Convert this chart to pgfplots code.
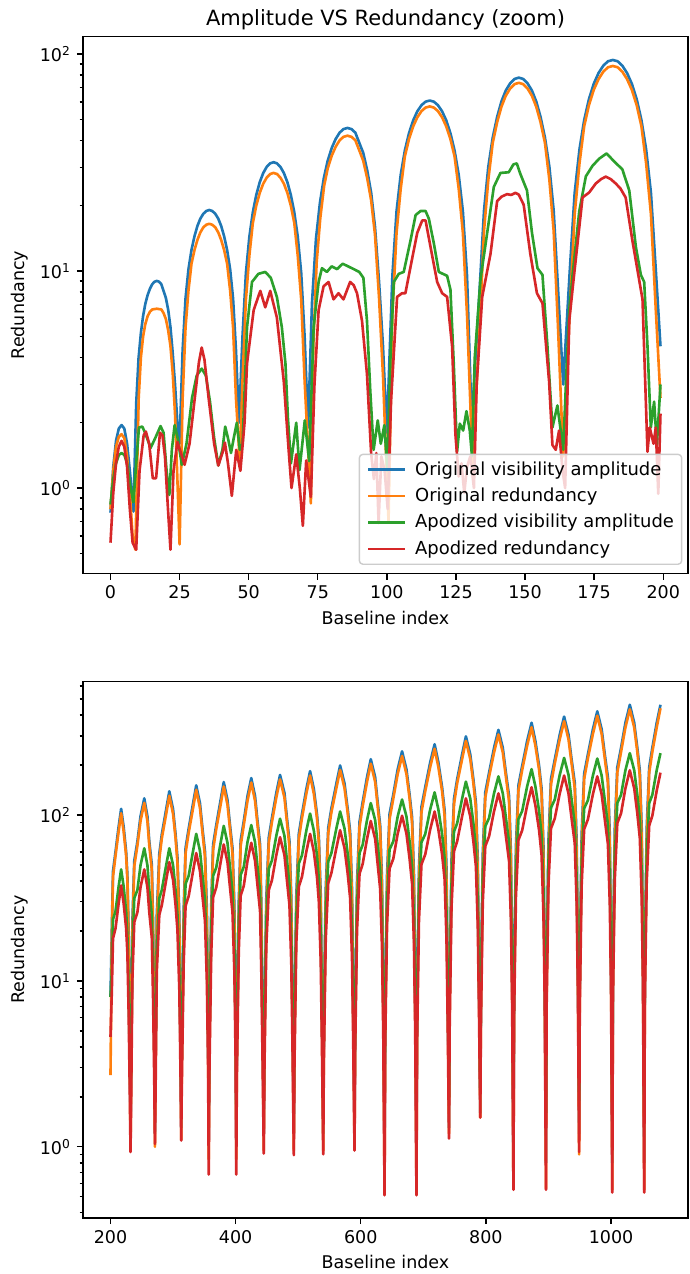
\documentclass[border=0pt]{standalone}
\usepackage{fontspec}
\setmainfont{DejaVu Sans}
\usepackage{pgfplots}
\usepackage{pgfplotstable}
\pgfplotsset{compat=1.18}
\definecolor{c0}{HTML}{1F77B4}
\definecolor{c1}{HTML}{FF7F0E}
\definecolor{c2}{HTML}{2CA02C}
\definecolor{c3}{HTML}{D62728}

\pgfplotstableread{
x b o g r
200 8 2.7 8 4.6
202 19.6 16.4 11.3 8.3
204 45.8 42.5 23.5 18
208 60 56.7 26.3 20.7
213 85 79.6 37.1 29.3
217 109 102.5 47 37.6
221 85 79.6 37.1 29.3
225 60 56.7 26.3 20.7
227 43.6 40.3 18.8 14.7
229 19.6 16.4 8.9 6.4
231 4.4 3.3 2.8 1.9
232 1.2 0.95 2.0 0.93
233 3.8 2.5 3.2 1.9
235 22.7 18.9 15.1 10.3
238 52.9 49.1 31.5 22.6
243 69.3 65.5 35.3 25.9
248 98.3 92 49.8 36.7
254 126 118.4 63 47
259 98.3 92 49.8 36.7
262 69.3 65.5 35.3 25.9
266 50.4 46.6 25.2 18.3
268 22.7 18.9 12 8
270 5 3.8 3.8 2.4
271 1.2 1.0 1.9 1.04
272 4.2 2.8 3.2 2.1
274 25 20.9 15.1 11.4
278 58.4 54.2 31.5 25
282 76.5 72.3 35.3 28.6
289 108.4 101.5 49.8 40.6
294 139 130.7 63 52
300 108.4 101.5 49.8 40.6
304 76.5 72.3 35.3 28.6
307 55.6 51.4 25.2 20.3
310 25 20.9 12 8.8
312 5.6 4.2 3.8 2.6
313 1.3 1.1 2.0 1.09
314 4.5 3.0 3.9 2.4
317 27.2 22.7 18.5 13
320 63.4 58.9 38.5 28.3
325 83 78.5 43.1 32.5
332 117.8 110.2 60.8 46
337 151 142 77 59
343 117.8 110.2 60.8 46
347 83 78.5 43.1 32.5
351 60.4 55.9 30.8 23
354 27.2 22.7 14.6 10
356 6 4.5 4.6 3
357 1.1 0.84 1.8 0.68
358 4.7 3.2 4.3 2.7
361 28.4 23.7 20.6 14.6
364 66.4 61.6 43 31.9
369 86.9 82.2 48.2 36.6
376 123.2 115.3 67.9 51.9
381 158 148.5 86 66.5
387 123.2 115.3 67.9 51.9
391 86.9 82.2 48.2 36.6
395 63.2 58.5 34.4 25.9
398 28.4 23.7 16.3 11.3
400 6.3 4.7 5.2 3.3
401 1.1 0.84 1.8 0.68
402 5 3.3 4.4 2.7
405 30 25 20.9 15
408 70.1 65.1 43.5 32.6
413 91.9 86.8 48.7 37.4
419 130.3 121.9 68.7 53
425 167 157 87 68
431 130.3 121.9 68.7 53
435 91.9 86.8 48.7 37.4
439 66.8 61.8 34.8 26.5
441 30 25 16.5 11.6
443 6.7 5 5.2 3.4
445 1.2 0.95 1.9 0.91
446 5.2 3.5 4.8 2.9
449 31.4 26.2 22.8 16.2
453 73.3 68.1 47.5 35.3
458 96 90.7 53.2 40.4
465 136.1 127.4 75 57.3
471 174.5 164 95 73.5
478 136.1 127.4 75 57.3
482 96 90.7 53.2 40.4
486 69.8 64.6 38 28.7
489 31.4 26.2 18 12.5
491 7 5.2 5.7 3.7
493 1.2 0.95 1.9 0.89
494 5.5 3.7 5.1 3.1
497 33.1 27.6 24.5 16.9
501 77.3 71.8 51 37
506 101.2 95.7 57.1 42.4
513 143.5 134.3 80.6 60.1
519 184 173 102 77
525 143.5 134.3 80.6 60.1
530 101.2 95.7 57.1 42.4
533 73.6 68.1 40.8 30
536 33.1 27.6 19.4 13.1
538 7.4 5.5 6.1 3.9
540 1.2 0.95 1.9 0.9
541 6 4 5.3 3.2
544 35.8 29.9 25.2 17.8
548 83.6 77.6 52.5 38.9
553 109.5 103.5 58.8 44.6
561 155.2 145.3 83 63.2
567 199 187 105 81
574 155.2 145.3 83 63.2
579 109.5 103.5 58.8 44.6
583 79.6 73.6 42 31.6
586 35.8 29.9 20 13.8
588 8 6 6.3 4.1
590 1.2 1.0 1.9 0.95
591 6.5 4.3 5.9 3.7
594 39.1 32.6 28.3 20.2
598 91.1 84.6 59 44.2
603 119.4 112.8 66.1 50.6
610 169.3 158.4 93.2 71.8
616 217 204 118 92
623 169.3 158.4 93.2 71.8
627 119.4 112.8 66.1 50.6
631 86.8 80.3 47.2 35.9
634 39.1 32.6 22.4 15.6
636 8.7 6.5 7.1 4.6
638 0.8 0.55 1.6 0.51
639 7.3 4.8 6.2 4
642 43.6 36.3 29.8 21.8
646 101.6 94.4 62 47.5
652 133.1 125.8 69.4 54.5
659 188.8 176.7 98 77.2
666 242 227 124 99
673 188.8 176.7 98 77.2
678 133.1 125.8 69.4 54.5
682 96.8 89.5 49.6 38.6
685 43.6 36.3 23.6 16.8
687 9.7 7.3 7.4 5
689 0.8 0.55 1.6 0.51
690 8 5.3 6.9 4.2
693 48.1 40 32.9 23.1
697 112.1 104.1 68.5 50.4
703 146.9 138.8 76.7 57.8
711 208.3 194.9 108.2 81.9
718 267 251 137 105
724 208.3 194.9 108.2 81.9
730 146.9 138.8 76.7 57.8
734 106.8 98.8 54.8 41
737 48.1 40 26 17.9
739 10.7 8 8.2 5.3
741 1.3 1.2 2.0 1.12
742 8.9 6 8 5
745 53.6 44.7 38.2 27.7
749 125.2 116.2 79.5 60.5
754 163.9 155 89 69.3
762 232.4 217.6 125.6 98.3
768 298 280 159 126
775 232.4 217.6 125.6 98.3
780 163.9 155 89 69.3
784 119.2 110.3 63.6 49.1
787 53.6 44.7 30.2 21.4
789 11.9 8.9 9.5 6.3
791 1.6 1.5 2.2 1.5
792 9.8 6.5 8.6 5.4
795 58.7 48.9 41 29.7
799 136.9 127.1 85.5 64.8
805 179.3 169.5 95.8 74.3
813 254.3 238 135.1 105.3
820 326 306 171 135
827 254.3 238 135.1 105.3
832 179.3 169.5 95.8 74.3
837 130.4 120.6 68.4 52.7
840 58.7 48.9 32.5 23
842 13 9.8 10.3 6.8
844 0.8 0.56 1.6 0.55
845 10.8 7.2 9.5 5.9
848 64.8 54 45.4 32.3
852 151.2 140.4 94.5 70.6
858 198 187.2 105.8 80.9
866 280.8 262.8 149.3 114.7
873 360 338 189 147
879 280.8 262.8 149.3 114.7
885 198 187.2 105.8 80.9
889 144 133.2 75.6 57.3
892 64.8 54 35.9 25
894 14.4 10.8 11.3 7.4
896 0.8 0.56 1.6 0.55
897 11.8 7.8 11.1 6.9
900 70.6 58.8 53 38.1
904 164.6 152.9 110.5 83
910 215.6 203.8 123.8 95.2
918 305.8 286.2 174.6 134.9
925 392 368 221 173
932 305.8 286.2 174.6 134.9
937 215.6 203.8 123.8 95.2
942 156.8 145 88.4 67.5
945 70.6 58.8 42 29.4
947 15.7 11.8 13.3 8.7
949 1.2 0.9 1.9 0.93
950 12.7 8.4 11 6.8
953 76 63.3 52.6 37.6
957 177.2 164.6 109.5 82.1
963 232.1 219.4 122.6 94.1
971 329.2 308 173 133.4
978 422 397 219 171
985 329.2 308 173 133.4
990 232.1 219.4 122.6 94.1
995 168.8 156.1 87.6 66.7
998 76 63.3 41.6 29.1
1000 16.9 12.7 13.1 8.6
1002 0.8 0.55 1.6 0.53
1003 13.9 9.2 11.8 7.4
1006 83.2 69.3 56.6 40.9
1010 194 180.2 118 89.3
1016 254.1 240.2 132.2 102.3
1023 360.4 337.3 186.4 145.1
1030 462 434 236 186
1037 360.4 337.3 186.4 145.1
1042 254.1 240.2 132.2 102.3
1046 184.8 170.9 94.4 72.5
1049 83.2 69.3 44.8 31.6
1051 18.5 13.9 14.2 9.3
1053 0.8 0.55 1.6 0.53
1054 13.9 9.2 11.8 7.2
1057 83.2 69.3 56.6 39.6
1061 194 180.2 118 86.4
1066 254.1 240.2 132.2 99
1073 360.4 337.3 186.4 140.4
1079 462 440 236 180
}\bottomdata

\pgfplotsset{
  mystyle/.style={
    scale only axis, width=345.7pt, height=306.7pt,
    axis line style={line width=0.8pt},
    tick align=outside,
    major tick length=3.5pt, minor tick length=2pt,
    tick style={black, line width=0.8pt},
    xtick pos=left, ytick pos=left,
    tick label style={font=\fontsize{10}{12}\selectfont},
    label style={font=\fontsize{10}{12}\selectfont},
    ylabel={Redundancy}, xlabel={Baseline index},
    ytick={1,10,100},
    yticklabels={10\textsuperscript{0},10\textsuperscript{1},10\textsuperscript{2}},
    every axis plot/.append style={line width=1.5pt, line join=round},
  }
}

\begin{document}
\begin{tikzpicture}
\path[use as bounding box] (-47.43pt,-400.3pt) rectangle (346.8pt,327.7pt);
\begin{semilogyaxis}[mystyle,
  at={(0pt,0pt)}, anchor=south west,
  xmin=-9.95, xmax=208.95, ymin=0.404, ymax=120,
  xtick={0,25,50,75,100,125,150,175,200},
  xticklabels={0,25,50,75,100,125,150,175,200},
  minor ytick={0.5,0.6,0.7,0.8,0.9,2,3,4,5,6,7,8,9,20,30,40,50,60,70,80,90},
  title={Amplitude VS Redundancy (zoom)},
  title style={font=\fontsize{12}{14}\selectfont, yshift=-5.7pt},
  legend style={at={(1,0)}, anchor=south east, xshift=-3.2pt, yshift=4.9pt,
    draw=black!20, line width=0.8pt, fill=white, fill opacity=0.8, text opacity=1, draw opacity=1,
    rounded corners=2pt, font=\fontsize{10.25}{12}\selectfont,
    inner xsep=4.4pt, inner ysep=1.2pt, row sep=0pt,
    nodes={inner xsep=0pt, inner ysep=2.9pt},
    /tikz/every odd column/.append style={column sep=5pt}},
  legend cell align=left,
  legend image code/.code={\draw[#1] (0pt,0pt) -- (21pt,0pt);},
]
\addplot[c0, no marks] coordinates {
(0,0.77) (1,1.25) (2,1.65) (3,1.88) (4,1.95) (5,1.88) (6,1.6) (7,1.2) (8.3,0.78)
(9.3,2.45) (10.15,3.96) (11,5.18) (11.8,6.21) (12.6,7.06) (13.45,7.76) (14.3,8.3) (15.1,8.69) (15.9,8.92) (16.75,9.0) (17.6,8.92) (18.4,8.69) (19.2,8.1) (20.05,7.5) (20.9,6.6) (21.7,5.5) (22.5,4.2) (23.35,3.0) (24.2,2.0) (25,1.6)
(26.1,4.32) (27.15,7.47) (28.2,10.16) (29.3,12.49) (30.4,14.48) (31.45,16.12) (32.5,17.42) (33.6,18.36) (34.7,18.91) (35.75,19.1) (36.8,18.91) (37.9,18.36) (39,17.42) (40.05,16.12) (41.1,14.48) (42.2,12.49) (43.3,10.16) (44.35,7.47) (45.4,4.32) (46.5,2.0)
(47.75,4.95) (49,9.8) (50.25,14.39) (51.5,18.64) (52.75,22.41) (54,25.65) (55.25,28.24) (56.5,30.15) (57.75,31.32) (59,31.7) (60.25,31.32) (61.5,30.15) (62.75,28.24) (64,25.65) (65.25,22.41) (66.5,18.64) (67.75,14.39) (69,9.8) (70.25,4.95) (71.5,1.9)
(72.9,7.11) (74.35,14.09) (75.8,20.7) (77.2,26.81) (78.6,32.24) (80.05,36.89) (81.5,40.63) (82.9,43.37) (84.3,45.05) (85.75,45.6) (87.2,45.05) (88.6,43.37) (90,39) (91.45,35) (92.9,29) (94.3,23) (95.7,16) (97.15,9) (98.6,4.5) (100,1.8)
(102,9.52) (103.5,18.85) (105,27.69) (106.5,35.87) (108,43.1) (109.5,49.35) (111,54.35) (112.5,58.01) (114,60.27) (115.5,61) (117,60.27) (118.5,58.01) (120,54.35) (121.5,49.35) (123,43.1) (124.5,35.87) (126,27.69) (127.5,18.85) (129,9.52) (130.7,2.0)
(133.6,8.4) (135.15,18.98) (136.7,30.19) (138.3,41.16) (139.9,51.27) (141.45,60.37) (143,67.76) (144.6,73.21) (146.2,76.71) (147.75,77.8) (149.3,76.71) (150.9,73.21) (152.5,67.76) (154.05,60.37) (155.6,51.27) (157.2,41.16) (158.8,30.19) (160.35,18.98) (161.9,8.4) (163.8,3.0)
(166.2,10.13) (167.95,22.89) (169.7,36.39) (171.4,49.62) (173.1,61.8) (174.85,72.79) (176.6,81.7) (178.3,88.27) (180,92.5) (181.75,93.8) (183.5,92.5) (185.2,88.27) (186.9,81.7) (188.65,72.79) (190.4,61.8) (192.1,49.62) (193.8,36.39) (195.55,22.89) (197.3,10.13) (199,4.5)
};
\addplot[c1, no marks] coordinates {
(0,0.8) (1,1.2) (2,1.55) (3,1.72) (4,1.77) (5,1.7) (6,1.4) (7,0.95) (8,0.6) (9,0.52)
(10.2,2.6) (11,4.0) (11.8,5.0) (12.6,5.7) (13.45,6.2) (14.3,6.5) (15.1,6.65) (16.75,6.7) (18.4,6.65) (19.2,6.4) (20.05,6.0) (20.9,5.3) (21.7,4.5) (22.5,3.4) (23.35,2.2) (24.2,1.1) (25,0.55)
(26.1,2.6) (27.15,5.5) (28.2,8.1) (29.3,10.8) (30.4,12.51) (31.45,13.9) (32.5,15.05) (33.6,15.9) (34.7,16.34) (35.75,16.5) (36.8,16.34) (37.9,15.9) (39,15.05) (40.05,13.9) (41.1,12.51) (42.2,10.8) (43.3,8.1) (44.35,5.5) (45.4,2.6) (46.8,1.3)
(47.75,3.1) (49,7.4) (50.25,11.8) (51.5,16.65) (52.75,20.01) (54,22.9) (55.25,25.22) (56.5,26.9) (57.75,27.97) (59,28.3) (60.25,27.97) (61.5,26.9) (62.75,25.22) (64,22.9) (65.25,20.01) (66.5,16.65) (67.75,11.8) (69,7.4) (70.25,3.1) (72.5,0.85)
(73.4,4.6) (74.6,11) (75.9,17.5) (77.3,24.7) (78.6,29.7) (80.05,34) (81.5,37.4) (82.9,40) (84.3,41.5) (85.75,42) (87.2,41.5) (88.6,40) (90,36) (91.45,32.2) (92.9,26.7) (94.3,21.2) (95.7,14.7) (97.15,7.6) (98.6,3.3) (100.6,0.7)
(102,6.3) (103.5,15) (105,23.9) (106.5,33.7) (108,40.5) (109.5,46.3) (111,51) (112.5,54.5) (114,56.6) (115.5,57.3) (117,56.6) (118.5,54.5) (120,51) (121.5,46.3) (123,40.5) (124.5,33.7) (126,23.9) (127.5,15) (129,6.3) (131,1.3)
(133.6,5.6) (135.15,15.3) (136.7,26.3) (138.3,38.9) (139.9,48.5) (141.45,57.1) (143,64.1) (144.6,69.3) (146.2,72.6) (147.75,73.6) (149.3,72.6) (150.9,69.3) (152.5,64.1) (154.05,57.1) (155.6,48.5) (157.2,38.9) (158.8,26.3) (160.35,15.3) (161.9,5.6) (163.8,1.4)
(166.2,6.65) (167.95,18.25) (169.7,31.4) (171.4,46.5) (173.1,58) (174.85,68.3) (176.6,76.6) (178.3,82.8) (180,86.8) (181.75,88) (183.5,86.8) (185.2,82.8) (186.9,76.6) (188.65,68.3) (190.4,58) (192.1,46.5) (193.8,31.4) (195.55,18.25) (197.3,6.65) (199,2.6)
};
\addplot[c2, no marks] coordinates {
(0,0.84) (1,1.1) (2,1.3) (3,1.42) (4,1.45) (5,1.42) (6,1.3) (7,1.05) (8.3,0.86) (9.2,1.25) (10.3,1.9) (11.5,1.92) (12.5,1.8) (14.5,1.53) (16.2,1.7) (18.1,1.93) (19.2,1.8) (20.3,1.2) (21.3,0.93) (22.2,1.5) (23.2,1.95) (24.3,1.7) (25.8,1.28) (27.5,1.6) (29.5,2.6) (31.2,3.3) (33,3.55) (34.5,3.3) (36,2.5) (37.5,1.7) (39,1.27) (40.5,1.5) (41.5,1.92) (42.5,1.7) (43.6,1.45) (44.6,1.7) (45.7,2.0) (46.8,1.5) (47.8,1.6) (48.6,3.0) (49.4,5.5) (51.2,8.9) (53.5,9.7) (56,9.9) (58,9.3) (60.2,7.6) (62,5.5) (63.3,3.75) (64.2,2.1) (65.3,1.3) (67.2,2.0) (68.4,1.21) (70.3,2.05) (71.9,1.33) (73.5,5.5) (75.3,8.9) (76.5,10.3) (78.3,9.9) (80,10.5) (82,10.2) (84,10.8) (86,10.5) (88,10.2) (90,9.9) (91.5,9.3) (92.8,5.9) (94,2.8) (95.2,1.5) (96.7,2.05) (97.8,1.6) (99.1,1.95) (100.2,1.2) (101.3,4.0) (102.5,8.9) (104.3,9.7) (106.1,9.9) (108.6,13.9) (110.4,18.1) (112.2,18.9) (114,18.9) (115.2,17.4) (117,13.4) (118.8,9.9) (121.8,9.5) (123,8.2) (124.2,3.75) (125.4,1.47) (126.4,1.98) (127.6,1.84) (128.8,2.26) (130,1.84) (130.8,1.4) (131.8,4.0) (133.9,9.2) (136.3,15) (138.7,24.4) (141.1,28.3) (144.1,28.5) (145.8,31) (147,31.3) (148.3,28) (150.7,23.5) (152.5,15) (154.5,10.3) (156.3,9.6) (158.1,4.5) (159.9,1.9) (161.7,2.4) (162.9,1.84) (163.8,1.5) (165,3.5) (166,6.6) (167.2,9.6) (169.6,18.8) (172,27.3) (174.4,30.5) (176.8,32.9) (179.5,34.8) (182.2,32) (185.2,29.4) (187.7,23.5) (190.1,12.9) (191.9,9.6) (193.1,8.9) (194.3,4.5) (195.5,1.9) (196.7,2.5) (197.7,1.58) (199,3.0)
};
\addplot[c3, no marks] coordinates {
(0,0.56) (1,0.95) (2,1.3) (3,1.55) (4,1.65) (5,1.55) (6,1.25) (7,0.8) (8,0.56) (9.3,0.52) (10.5,1.2) (12,1.75) (12.8,1.82) (14,1.6) (15.3,1.11) (16.5,1.11) (17.9,1.8) (18.8,1.75) (19.7,1.4) (20.8,0.8) (21.7,0.52) (22.8,1.2) (24.2,1.63) (25.5,1.45) (26.8,1.28) (28.6,1.6) (30.5,2.6) (32,3.8) (33,4.44) (34,3.9) (35.5,2.6) (37.5,1.6) (39,1.27) (40.5,1.45) (41.4,1.62) (42.5,1.3) (43.9,0.92) (45.5,1.5) (47,1.2) (48.5,2.0) (49.4,3.75) (51.8,6.6) (54.2,8.1) (56,6.8) (57.8,8.1) (60.2,6.1) (62.7,3.1) (64.5,1.47) (65.5,1.0) (67.2,1.43) (68.5,1.0) (69.6,0.67) (70.8,1.34) (72.5,0.91) (73.8,3.0) (75.3,6.6) (77.1,8.5) (78.9,8.9) (80.7,7.4) (82.5,7.9) (84.3,7.4) (86.7,8.9) (88,8.6) (89.2,7.9) (91,5.9) (92.8,3.35) (94.3,1.45) (95.3,1.1) (96.2,1.45) (97,0.69) (98,1.4) (99.2,1.2) (100.3,0.8) (101.5,2.5) (103.7,7.6) (105.5,7.9) (106.7,7.9) (109.2,11.5) (111,15) (112.8,17.1) (114,17.1) (115.8,12.9) (118.2,8.9) (120,7.9) (121.8,7.6) (123.6,4.5) (124.8,1.77) (126,1.13) (127,1.3) (128,0.95) (129,1.25) (130.2,1.4) (131.5,1.0) (132.5,3.0) (134.5,7.6) (137.5,12) (139.9,21) (141.5,22) (143.5,22.6) (145,22.4) (146.5,22.9) (147.7,22.5) (149.5,20.2) (151.9,12) (154.3,7.9) (156.3,7.1) (158.7,3.1) (159.9,1.58) (161.1,1.5) (162.3,1.84) (163.6,1.2) (164.5,1.0) (166,5.9) (167.5,9) (170.8,21.8) (173.2,23) (175.6,25.3) (177.5,26.5) (179.2,27.2) (181,26.5) (182.8,25.3) (184.5,24) (186.4,21.8) (188.8,13.9) (192.5,7.4) (194.3,1.47) (195.1,1.9) (196.5,1.6) (197.3,1.9) (198.2,0.94) (199,2.2)
};
\legend{Original visibility amplitude, Original redundancy, Apodized visibility amplitude, Apodized redundancy}
\end{semilogyaxis}

\begin{semilogyaxis}[mystyle,
  at={(0pt,-368.3pt)}, anchor=south west,
  xmin=156.05, xmax=1122.95, ymin=0.372, ymax=640,
  xtick={200,400,600,800,1000},
  xticklabels={200,400,600,800,1000},
  minor ytick={0.4,0.5,0.6,0.7,0.8,0.9,2,3,4,5,6,7,8,9,20,30,40,50,60,70,80,90,200,300,400,500,600},
]
\addplot[c0, no marks] table[x=x,y=b]{\bottomdata};
\addplot[c1, no marks] table[x=x,y=o]{\bottomdata};
\addplot[c2, no marks] table[x=x,y=g]{\bottomdata};
\addplot[c3, no marks] table[x=x,y=r]{\bottomdata};
\end{semilogyaxis}
\end{tikzpicture}
\end{document}
